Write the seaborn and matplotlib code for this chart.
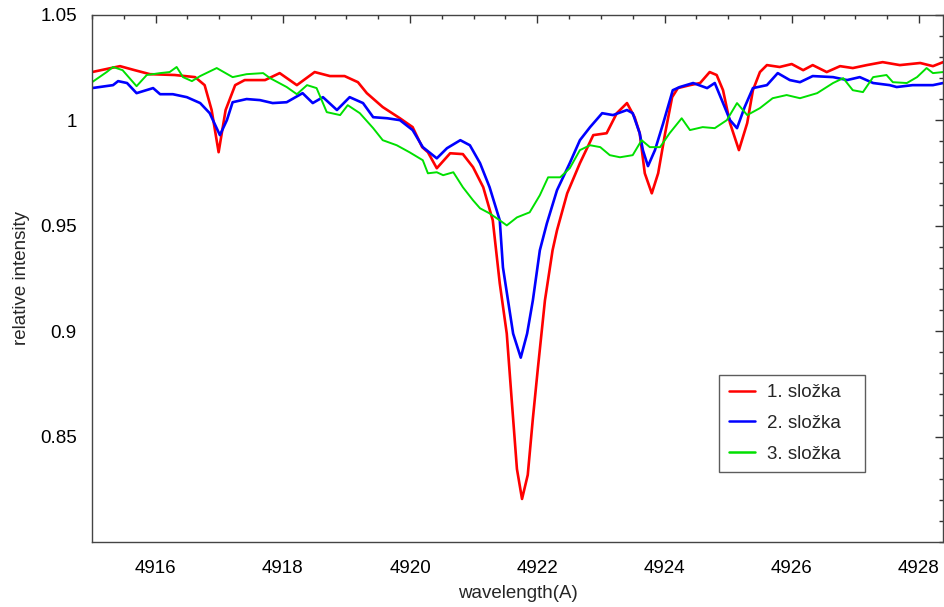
import numpy as np
import pandas as pd
import matplotlib
matplotlib.use("Agg")
import matplotlib.pyplot as plt
from matplotlib.ticker import MultipleLocator, FixedLocator, FuncFormatter
import seaborn as sns

# ---- data ----
labels = ["1. složka", "2. složka", "3. složka"]
colors = ["#ff0000", "#0000ff", "#00e000"]

wl1 = [4915.00, 4915.44, 4915.67, 4915.91, 4916.30, 4916.62, 4916.77, 4916.88, 4916.99, 4917.10,
       4917.25, 4917.40, 4917.72, 4917.95, 4918.22, 4918.50, 4918.74, 4918.97, 4919.18, 4919.32,
       4919.57, 4919.84, 4920.04, 4920.19, 4920.28, 4920.42, 4920.63, 4920.83, 4920.99, 4921.15,
       4921.30, 4921.41, 4921.52, 4921.60, 4921.68, 4921.76, 4921.85, 4921.93, 4922.01, 4922.12,
       4922.24, 4922.31, 4922.47, 4922.67, 4922.88, 4923.09, 4923.25, 4923.41, 4923.53, 4923.61,
       4923.69, 4923.80, 4923.90, 4924.01, 4924.12, 4924.21, 4924.40, 4924.56, 4924.71, 4924.82,
       4924.92, 4925.03, 4925.17, 4925.30, 4925.39, 4925.50, 4925.61, 4925.81, 4926.00, 4926.18,
       4926.33, 4926.55, 4926.76, 4926.96, 4927.18, 4927.43, 4927.70, 4928.02, 4928.22, 4928.38]
int1 = [1.0228, 1.0256, 1.0237, 1.0218, 1.0214, 1.0204, 1.0166, 1.0048, 0.9848, 1.0048,
        1.0166, 1.0190, 1.0190, 1.0223, 1.0166, 1.0228, 1.0209, 1.0209, 1.0180, 1.0128,
        1.0062, 1.0009, 0.9967, 0.9872, 0.9848, 0.9772, 0.9843, 0.9839, 0.9777, 0.9682,
        0.9525, 0.9226, 0.8988, 0.8664, 0.8346, 0.8204, 0.8318, 0.8584, 0.8826, 0.9145,
        0.9383, 0.9478, 0.9653, 0.9796, 0.9929, 0.9938, 1.0033, 1.0081, 1.0014, 0.9938,
        0.9748, 0.9653, 0.9748, 0.9938, 1.0109, 1.0152, 1.0166, 1.0176, 1.0228, 1.0214,
        1.0142, 0.9986, 0.9858, 0.9986, 1.0142, 1.0228, 1.0261, 1.0252, 1.0266, 1.0237,
        1.0261, 1.0228, 1.0256, 1.0247, 1.0261, 1.0275, 1.0261, 1.0271, 1.0256, 1.0275]

wl2 = [4915.00, 4915.33, 4915.41, 4915.55, 4915.70, 4915.96, 4916.07, 4916.27, 4916.49, 4916.70,
       4916.85, 4917.01, 4917.12, 4917.21, 4917.43, 4917.64, 4917.84, 4918.06, 4918.31, 4918.47,
       4918.63, 4918.85, 4919.05, 4919.26, 4919.42, 4919.64, 4919.84, 4920.04, 4920.20, 4920.42,
       4920.58, 4920.79, 4920.94, 4921.10, 4921.25, 4921.41, 4921.46, 4921.54, 4921.62, 4921.74,
       4921.84, 4921.93, 4922.04, 4922.15, 4922.31, 4922.51, 4922.67, 4922.83, 4923.02, 4923.19,
       4923.41, 4923.50, 4923.61, 4923.66, 4923.74, 4923.85, 4923.98, 4924.13, 4924.24, 4924.45,
       4924.67, 4924.79, 4924.92, 4925.03, 4925.14, 4925.26, 4925.39, 4925.61, 4925.78, 4925.97,
       4926.13, 4926.33, 4926.65, 4926.87, 4927.07, 4927.28, 4927.54, 4927.65, 4927.90, 4928.22,
       4928.38]
int2 = [1.0152, 1.0166, 1.0185, 1.0176, 1.0128, 1.0152, 1.0123, 1.0123, 1.0109, 1.0081,
        1.0033, 0.9929, 1.0000, 1.0085, 1.0100, 1.0095, 1.0081, 1.0085, 1.0128, 1.0081,
        1.0109, 1.0048, 1.0109, 1.0081, 1.0014, 1.0009, 1.0000, 0.9953, 0.9872, 0.9819,
        0.9867, 0.9905, 0.9881, 0.9796, 0.9682, 0.9525, 0.9302, 0.9145, 0.8988, 0.8874,
        0.8988, 0.9145, 0.9383, 0.9510, 0.9668, 0.9796, 0.9905, 0.9967, 1.0033, 1.0024,
        1.0048, 1.0033, 0.9938, 0.9858, 0.9782, 0.9858, 0.9986, 1.0142, 1.0157, 1.0176,
        1.0152, 1.0176, 1.0081, 1.0000, 0.9962, 1.0062, 1.0152, 1.0166, 1.0223, 1.0190,
        1.0180, 1.0209, 1.0204, 1.0190, 1.0204, 1.0176, 1.0166, 1.0157, 1.0166, 1.0166,
        1.0176]

wl3 = [4915.00, 4915.23, 4915.33, 4915.48, 4915.70, 4915.86, 4916.07, 4916.22, 4916.33, 4916.43,
       4916.57, 4916.70, 4916.96, 4917.21, 4917.43, 4917.69, 4917.80, 4918.06, 4918.22, 4918.38,
       4918.53, 4918.69, 4918.90, 4919.02, 4919.21, 4919.42, 4919.57, 4919.79, 4919.99, 4920.20,
       4920.28, 4920.42, 4920.52, 4920.68, 4920.83, 4920.99, 4921.10, 4921.25, 4921.41, 4921.52,
       4921.68, 4921.88, 4922.04, 4922.17, 4922.36, 4922.51, 4922.67, 4922.83, 4922.99, 4923.14,
       4923.30, 4923.50, 4923.64, 4923.77, 4923.93, 4924.08, 4924.27, 4924.40, 4924.60, 4924.79,
       4924.98, 4925.14, 4925.30, 4925.50, 4925.70, 4925.92, 4926.13, 4926.40, 4926.65, 4926.81,
       4926.96, 4927.12, 4927.28, 4927.49, 4927.59, 4927.81, 4927.97, 4928.12, 4928.22, 4928.38]
int3 = [1.0180, 1.0228, 1.0252, 1.0237, 1.0161, 1.0214, 1.0223, 1.0228, 1.0252, 1.0204,
        1.0185, 1.0209, 1.0247, 1.0204, 1.0218, 1.0223, 1.0199, 1.0157, 1.0123, 1.0166,
        1.0152, 1.0038, 1.0024, 1.0071, 1.0033, 0.9962, 0.9905, 0.9881, 0.9848, 0.9810,
        0.9748, 0.9753, 0.9739, 0.9753, 0.9682, 0.9620, 0.9582, 0.9558, 0.9525, 0.9501,
        0.9539, 0.9563, 0.9644, 0.9729, 0.9729, 0.9772, 0.9858, 0.9881, 0.9872, 0.9834,
        0.9824, 0.9834, 0.9905, 0.9872, 0.9872, 0.9938, 1.0009, 0.9953, 0.9967, 0.9962,
        1.0000, 1.0081, 1.0024, 1.0057, 1.0104, 1.0119, 1.0104, 1.0128, 1.0176, 1.0199,
        1.0142, 1.0133, 1.0204, 1.0214, 1.0180, 1.0176, 1.0204, 1.0247, 1.0223, 1.0228]

x_ticks = [4916, 4918, 4920, 4922, 4924, 4926, 4928]
y_ticks = [0.85, 0.90, 0.95, 1.00, 1.05]

# ---- build table ----
frames = []
for lab, w, v in zip(labels, [wl1, wl2, wl3], [int1, int2, int3]):
    frames.append(pd.DataFrame({"wavelength": w, "intensity": v, "series": lab}))
df = pd.concat(frames, ignore_index=True)

sns.set_theme(style="white")
plt.rcParams["font.family"] = ["Liberation Sans", "DejaVu Sans"]
plt.rcParams["xtick.direction"] = "in"
plt.rcParams["ytick.direction"] = "in"

FS = 13.5

fig = plt.figure(figsize=(9.45, 6.07), dpi=100)
ax = fig.add_axes([0.0974, 0.1071, 0.9006, 0.8687])

sns.lineplot(data=df, x="wavelength", y="intensity", hue="series", hue_order=labels,
             palette=dict(zip(labels, colors)), sort=False, estimator=None, ax=ax,
             linewidth=1.7)
for line, lw in zip(ax.get_lines(), [1.9, 1.9, 1.4]):
    line.set_linewidth(lw)

ax.set_xlim(4915, 4928.38)
ax.set_ylim(0.8, 1.05)
ax.xaxis.set_major_locator(FixedLocator(x_ticks))
ax.xaxis.set_minor_locator(MultipleLocator(0.5))
ax.yaxis.set_major_locator(FixedLocator(y_ticks))
ax.yaxis.set_minor_locator(MultipleLocator(0.01))
ax.yaxis.set_major_formatter(FuncFormatter(lambda v, p: "%g" % round(v, 2)))
ax.xaxis.set_major_formatter(FuncFormatter(lambda v, p: "%d" % v))

ax.tick_params(which="both", top=True, right=True, colors="#333333", labelcolor="black",
               width=1.0, labelsize=FS)
ax.tick_params(which="major", length=6)
ax.tick_params(axis="x", which="major", pad=13)
ax.tick_params(axis="y", which="major", pad=11)
ax.tick_params(which="minor", length=3)
for s in ax.spines.values():
    s.set_color("#444444")
    s.set_linewidth(1.0)

ax.set_xlabel("wavelength(A)", fontsize=FS, labelpad=6)
ax.set_ylabel("relative intensity", fontsize=FS, labelpad=7)

leg = ax.legend(loc="upper left", bbox_to_anchor=(0.737, 0.10, 0.1716, 0.2169), mode="expand",
                frameon=True, fancybox=False, fontsize=FS, handlelength=1.39,
                handletextpad=0.64, labelspacing=0.72, borderpad=0.5, borderaxespad=0.0,
                title=None)
leg.get_frame().set_edgecolor("#333333")
leg.get_frame().set_linewidth(1.0)
for h in leg.get_lines():
    h.set_linewidth(1.8)

fig.savefig("out.png", dpi=100)
